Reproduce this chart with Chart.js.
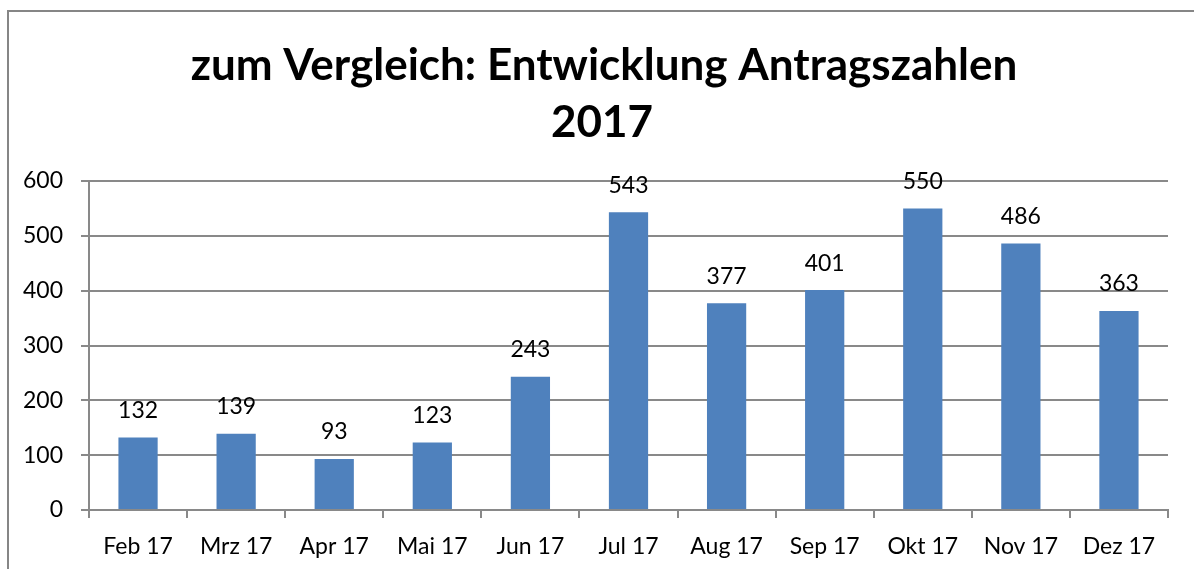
<!DOCTYPE html>
<html>
<head>
<meta charset="utf-8">
<script src="https://cdn.jsdelivr.net/npm/chart.js@4/dist/chart.umd.min.js"></script>
<style>
  html, body { margin: 0; padding: 0; background: #fff; }
  #wrap { width: 1194px; height: 569px; }
</style>
</head>
<body>
<div id="wrap"><canvas id="chart" width="1194" height="569"></canvas></div>
<script>
const months = ["Feb 17", "Mrz 17", "Apr 17", "Mai 17", "Jun 17", "Jul 17", "Aug 17", "Sep 17", "Okt 17", "Nov 17", "Dez 17"];
const antraege = [132, 139, 93, 123, 243, 543, 377, 401, 550, 486, 363];
const yTicks = [0, 100, 200, 300, 400, 500, 600];
const titleLines = ["zum Vergleich: Entwicklung Antragszahlen", "2017"];

const fontFamily = "Lato, 'Open Sans', sans-serif";
const gray = "#898989";

// outer frame like the office chart box
const frame = {
  id: "frame",
  beforeDraw(chart) {
    const ctx = chart.ctx;
    ctx.save();
    ctx.fillStyle = "#fff";
    ctx.fillRect(0, 0, chart.width, chart.height);
    ctx.strokeStyle = "#868686";
    ctx.lineWidth = 2;
    ctx.strokeRect(8, 11, chart.width + 20, chart.height + 20);
    ctx.restore();
  }
};

// title is centred on the whole box, not on the plot, so draw it here
const boxTitle = {
  id: "boxTitle",
  afterDraw(chart) {
    const ctx = chart.ctx;
    ctx.save();
    ctx.font = "bold 44px " + fontFamily;
    ctx.fillStyle = "#000";
    ctx.textAlign = "center";
    ctx.textBaseline = "middle";
    ctx.fillText(titleLines[0], 604, 66);
    ctx.fillText(titleLines[1], 602, 123);
    ctx.restore();
  }
};

// value labels above bars
const valueLabels = {
  id: "valueLabels",
  afterDatasetsDraw(chart) {
    const ctx = chart.ctx;
    ctx.save();
    ctx.font = "23px " + fontFamily;
    ctx.fillStyle = "#000";
    ctx.textAlign = "center";
    ctx.textBaseline = "middle";
    chart.getDatasetMeta(0).data.forEach((bar, i) => {
      ctx.fillText(antraege[i], bar.x, bar.y - 27);
    });
    ctx.restore();
  }
};

new Chart(document.getElementById("chart").getContext("2d"), {
  type: "bar",
  data: {
    labels: months,
    datasets: [{
      data: antraege,
      backgroundColor: "#4F81BD",
      barPercentage: 0.4,
      categoryPercentage: 1.0
    }]
  },
  options: {
    responsive: false,
    animation: false,
    layout: { padding: { left: 0, right: 26, top: 181, bottom: 0 } },
    plugins: {
      legend: { display: false },
      tooltip: { enabled: false },
      title: { display: false }
    },
    scales: {
      x: {
        grid: { display: true, drawOnChartArea: false, offset: true, color: gray, lineWidth: 2, tickLength: 8 },
        border: { color: gray, width: 2 },
        ticks: { color: "#000", font: { family: fontFamily, size: 23 }, padding: 15, maxRotation: 0 },
        afterFit(scale) { scale.height = 59; }
      },
      y: {
        min: 0,
        max: 600,
        afterBuildTicks(scale) { scale.ticks = yTicks.map(v => ({ value: v })); },
        grid: { color: gray, lineWidth: 2, tickLength: 8 },
        border: { color: gray, width: 2 },
        ticks: { color: "#000", font: { family: fontFamily, size: 23 }, padding: 18 },
        afterFit(scale) { scale.width = 89; }
      }
    }
  },
  plugins: [frame, boxTitle, valueLabels]
});
</script>
</body>
</html>
